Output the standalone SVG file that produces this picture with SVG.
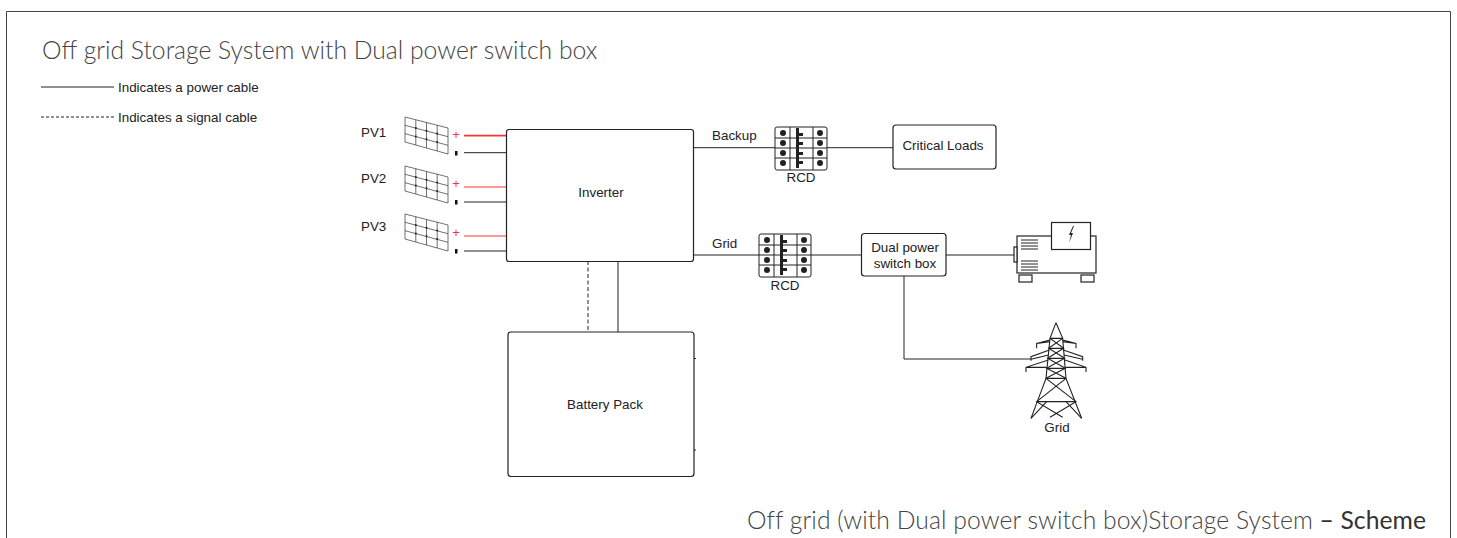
<svg xmlns="http://www.w3.org/2000/svg" width="1457" height="538" viewBox="0 0 1457 538">
<style>
.t{font-family:"Liberation Sans",Arial,sans-serif;font-size:13.4px;fill:#222}
.m{text-anchor:middle}
.h{font-family:Lato,"Open Sans",sans-serif;font-weight:300;fill:#444;font-size:24.7px}
.b{fill:#fff;stroke:#222;stroke-width:1.2}
.l{fill:none;stroke:#222;stroke-width:1}
.r{fill:none;stroke:#f33;stroke-width:1}
.thin{fill:none;stroke:#333;stroke-width:.7}
</style>
<defs>
<g id="panel">
<path class="thin" d="M0 0L43 11V37L0 25ZM0 8.300L43 19.700M0 16.700L43 28.300M10.800 2.700V28M21.500 5.500V31M32.200 8.300V34"/>
<g fill="#222"><circle cx="10.800" cy="11" r="1"/><circle cx="21.500" cy="13.800" r="1"/><circle cx="32.200" cy="16.600" r="1"/><circle cx="10.800" cy="19.500" r="1"/><circle cx="21.500" cy="22.300" r="1"/><circle cx="32.200" cy="25.100" r="1"/></g>
</g>
<g id="rcd">
<rect x="0" y="0" width="52" height="43" rx="2" fill="#fff" stroke="#222" stroke-width="1"/>
<path class="l" d="M0 11H52M0 21H52M0 31H52M15 0V43M38 0V43"/>
<g fill="#222"><circle cx="8" cy="6" r="3"/><circle cx="45" cy="6" r="3"/><circle cx="8" cy="16" r="3"/><circle cx="45" cy="16" r="3"/><circle cx="8" cy="26" r="3"/><circle cx="45" cy="26" r="3"/><circle cx="8" cy="36" r="3"/><circle cx="45" cy="36" r="3"/>
<rect x="21" y="1" width="3" height="40"/><rect x="24" y="6" width="4" height="3"/><rect x="24" y="15" width="4" height="3"/><rect x="24" y="25" width="4" height="3"/><rect x="24" y="34" width="4" height="3"/></g>
</g>
</defs>
<rect width="1457" height="538" fill="#fff"/>
<path d="M6.500 538V11.500H1450.500V538" fill="none" stroke="#444" stroke-width="1"/>
<text class="h" x="42" y="59">Off grid Storage System with Dual power switch box</text>
<text class="h" x="747" y="529" letter-spacing=".07">Off grid (with Dual power switch box)Storage System <tspan fill="#333" font-weight="400">– Scheme</tspan></text>
<g id="legend">
<path class="l" d="M41 87H114"/>
<path class="l" stroke-dasharray="3 2" d="M41 117H114"/>
<text class="t" x="118" y="92">Indicates a power cable</text>
<text class="t" x="118" y="122">Indicates a signal cable</text>
</g>
<g id="connectors">
<path class="r" style="stroke-width:1.800" d="M464 135.700H506"/>
<path class="r" d="M464 187H506"/>
<path class="r" d="M464 236H506"/>
<path class="l" d="M464 152.700H506M464 202H506M464 251H506"/>
<path class="l" d="M618 261V332"/>
<path class="l" stroke-dasharray="4 2.500" d="M588 261V332"/>
<path class="l" d="M694 147.700H893M694 255H862M946 255H1014M904 276V359H1031"/>
</g>
<g id="pv1"><text class="t" x="361" y="137">PV1</text><use href="#panel" x="405" y="117"/><text x="456" y="139" text-anchor="middle" font-family="Liberation Sans" font-size="13" fill="#f33">+</text><rect x="455" y="151" width="2.500" height="4.500" fill="#111"/></g>
<g id="pv2"><text class="t" x="361" y="183">PV2</text><use href="#panel" x="405" y="166"/><text x="456" y="188" text-anchor="middle" font-family="Liberation Sans" font-size="13" fill="#f33">+</text><rect x="455" y="200" width="2.500" height="4.500" fill="#111"/></g>
<g id="pv3"><text class="t" x="361" y="231">PV3</text><use href="#panel" x="405" y="214"/><text x="456" y="237" text-anchor="middle" font-family="Liberation Sans" font-size="13" fill="#f33">+</text><rect x="455" y="249" width="2.500" height="4.500" fill="#111"/></g>
<g id="inverter"><rect class="b" x="506.500" y="129.500" width="187" height="132" rx="2.500"/><text class="t m" x="601" y="197">Inverter</text></g>
<g id="battery"><rect class="b" x="508" y="332" width="186" height="144.500" rx="3"/><path class="l" d="M694 358.500H696M694 450H696"/><text class="t m" x="605" y="409">Battery Pack</text></g>
<g id="backup-label"><text class="t" x="712" y="140">Backup</text></g>
<g id="grid-label"><text class="t" x="712" y="248">Grid</text></g>
<g id="rcd1"><use href="#rcd" x="775" y="127"/><text class="t m" x="801" y="182">RCD</text></g>
<g id="rcd2"><use href="#rcd" x="759" y="234"/><text class="t m" x="785" y="290">RCD</text></g>
<g id="critical-loads"><rect class="b" x="893" y="125" width="103" height="44" rx="3"/><text class="t m" x="943" y="150">Critical Loads</text></g>
<g id="switch-box"><rect class="b" x="861.500" y="233.500" width="84.500" height="42.500" rx="3"/><text class="t m" x="905" y="252">Dual power</text><text class="t m" x="905" y="268">switch box</text></g>
<g id="generator">
<rect class="b" x="1017" y="236" width="79" height="37"/>
<rect class="b" x="1051.500" y="222.500" width="39" height="27"/>
<rect class="b" x="1014" y="247" width="3" height="15"/>
<rect class="b" x="1019" y="275" width="13" height="7"/>
<rect class="b" x="1081" y="275" width="13" height="7"/>
<path class="l" d="M1021 240H1038M1021 243H1038M1021 246H1038M1021 249H1038M1021 261H1038M1021 264H1038M1021 267H1038M1021 270H1038"/>
<path fill="#222" d="M1073 226L1069 235L1071 235L1069 243L1073 233L1071 233L1074 226Z"/>
</g>
<g id="grid-tower">
<g transform="translate(1000 310) scale(.3333)" fill="none" stroke="#222" stroke-width="3.300">
<path d="M168 38L150 85L138 205L93 325M168 38L188 85L198 205L245 325"/>
<path d="M150 85H188M146 115H191M143 145H194M140 175H196M138 205H198M110 275H228"/>
<path d="M150 85L191 115L143 145L196 175L138 205M188 85L146 115L194 145L140 175L198 205"/>
<path d="M138 205L228 275L150 322M198 205L110 275L188 322M93 325L140 275M245 325L198 275"/>
<path d="M150 90L110 100V115M188 90L228 100V115M110 100L150 95M228 100L188 95"/>
<path d="M148 120L93 140V152M190 120L248 140V152M93 148L146 135M248 148L192 135"/>
<path d="M145 150L78 172V186M195 150L258 172V186M78 172H140M258 172H196"/>
</g>
<text class="t m" x="1057" y="432">Grid</text>
</g>
</svg>
